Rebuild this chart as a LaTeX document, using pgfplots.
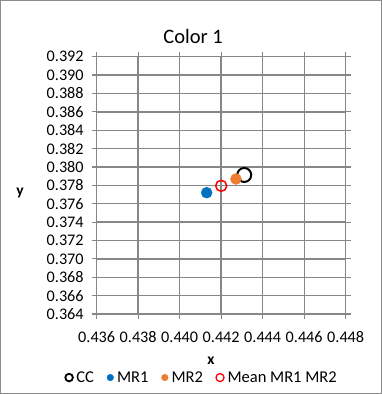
\documentclass[border=0pt]{standalone}
\usepackage{fontspec}
\setmainfont{Carlito}
\usepackage{pgfplots}
\pgfplotsset{compat=1.18}
\definecolor{gridgray}{HTML}{878787}
\definecolor{framegray}{HTML}{8C8C8C}
\definecolor{mrblue}{HTML}{0070C0}
\definecolor{mrorange}{HTML}{ED7D31}
\begin{document}
\begin{tikzpicture}
\useasboundingbox (0,0) rectangle (382pt,-394pt);
\draw[framegray, line width=1pt] (0.5pt,-0.5pt) rectangle (381.5pt,-393.5pt);
\begin{axis}[
  at={(96.7pt,-314pt)}, anchor=south west,
  scale only axis, width=249pt, height=257.3pt,
  xmin=0.436, xmax=0.448, ymin=0.364, ymax=0.392,
  xtick={0.436,0.438,...,0.4481}, ytick={0.364,0.366,...,0.3921},
  xticklabels={0.436,0.438,0.440,0.442,0.444,0.446,0.448},
  yticklabels={0.364,0.366,0.368,0.370,0.372,0.374,0.376,0.378,0.380,0.382,0.384,0.386,0.388,0.390,0.392},
  /pgf/number format/assume math mode=true,
  grid=major,
  major grid style={gridgray, line width=1.4pt},
  axis line style={gridgray, line width=1.4pt},
  tick style={gridgray, line width=1.2pt},
  tick align=outside, major tick length=5pt,
  tick label style={font=\fontsize{16.2}{19}\selectfont, text=black},
  yticklabel style={anchor=east, xshift=-4.5pt},
  xticklabel style={anchor=center, yshift=-18.5pt},
  title={Color 1},
  title style={font=\fontsize{20.5}{24}\selectfont, at={(rel axis cs:0.387,1.057)}, anchor=center},
  xlabel={\textbf{x}}, ylabel={\textbf{y}},
  xlabel style={font=\fontsize{15.5}{18}\selectfont, at={(rel axis cs:0.459,-0.18)}, anchor=center},
  ylabel style={font=\fontsize{15.5}{18}\selectfont, at={(rel axis cs:-0.308,0.47)}, anchor=center, rotate=-90},
  legend columns=4,
  legend style={at={(rel axis cs:0.423,-0.247)}, anchor=center, draw=none, fill=none,
    font=\fontsize{16.5}{19}\selectfont, column sep=1.5pt, inner sep=0pt,
    /tikz/every even column/.append style={column sep=11pt}},
  legend image code/.code={\draw[mark repeat=2,mark phase=2] plot coordinates {(0cm,0cm) (0.15cm,0cm) (0.3cm,0cm)};},
  legend cell align=left,
  clip=false,
]
\addplot[only marks, mark=o, mark size=7pt, mark options={draw=black, line width=2pt},
  legend image post style={mark size=3.8pt, mark options={draw=black, line width=1.8pt}}] coordinates {(0.44311,0.37913)};
\addlegendentry{CC}
\addplot[only marks, mark=*, mark size=5.5pt, mark options={draw=mrblue, fill=mrblue},
  legend image post style={mark size=3.3pt}] coordinates {(0.4413,0.3772)};
\addlegendentry{MR1}
\addplot[only marks, mark=*, mark size=5.5pt, mark options={draw=mrorange, fill=mrorange},
  legend image post style={mark size=3.3pt}] coordinates {(0.44271,0.37869)};
\addlegendentry{MR2}
\addplot[only marks, mark=o, mark size=5.5pt, mark options={draw=red, line width=1.5pt},
  legend image post style={mark size=4pt, mark options={draw=red, line width=1.3pt}}] coordinates {(0.4420,0.37795)};
\addlegendentry{Mean MR1 MR2}
\end{axis}
\end{tikzpicture}
\end{document}
